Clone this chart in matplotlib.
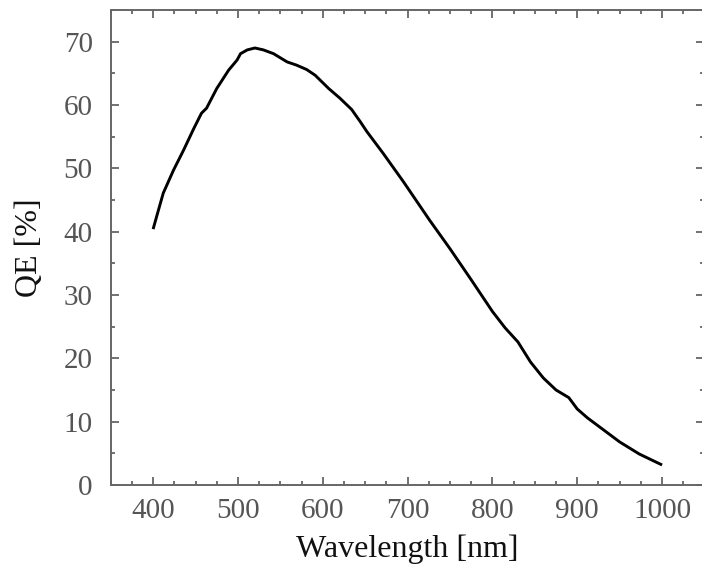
import matplotlib
matplotlib.use("Agg")
import matplotlib.pyplot as plt
from matplotlib.ticker import MultipleLocator

wavelength = [400, 405, 412, 424, 436, 448, 457, 463, 475, 489, 499, 503, 511, 520,
              530, 542, 558, 569, 581, 591, 607, 620, 634, 644, 652, 671, 695, 726,
              750, 775, 800, 815, 830, 845, 860, 875, 890, 900, 912, 926, 950, 973, 1000]
qe = [40.4, 42.8, 46.1, 49.7, 52.9, 56.3, 58.7, 59.5, 62.6, 65.5, 67.1, 68.1, 68.7, 69.0,
      68.7, 68.1, 66.8, 66.3, 65.6, 64.7, 62.6, 61.1, 59.3, 57.4, 55.8, 52.4, 47.9, 41.8,
      37.3, 32.4, 27.4, 24.8, 22.6, 19.4, 16.9, 15.0, 13.8, 12.0, 10.6, 9.2, 6.8, 4.9, 3.16]

x_ticks = [400, 500, 600, 700, 800, 900, 1000]
y_ticks = [0, 10, 20, 30, 40, 50, 60, 70]

plt.rcParams['font.family'] = ['Liberation Serif', 'DejaVu Serif']

fig = plt.figure(figsize=(7.02, 5.75), dpi=100)
W, H = 702, 575
left, right, top, bottom = 110.7, 704.5, 10, 485
ax = fig.add_axes([left / W, (H - bottom) / H, (right - left) / W, (bottom - top) / H])

ax.plot(wavelength, qe, color='black', lw=2.1, solid_joinstyle='round',
        solid_capstyle='butt')

ax.set_xlim(350, 1050)
ax.set_ylim(0, 75)
ax.set_xticks(x_ticks)
ax.set_yticks(y_ticks)
ax.xaxis.set_minor_locator(MultipleLocator(25))
ax.yaxis.set_minor_locator(MultipleLocator(5))

spine_col = '#666666'
for s in ax.spines.values():
    s.set_color(spine_col)
    s.set_linewidth(1.4)

ax.tick_params(which='both', direction='in', top=True, right=True, color=spine_col,
               width=1.3, labelcolor='#555555', labelsize=21)
ax.tick_params(which='major', length=6)
ax.tick_params(which='minor', length=3)
ax.tick_params(axis='x', which='major', pad=9)
ax.tick_params(axis='y', which='major', pad=13)

ax.set_xlabel('Wavelength [nm]', fontsize=23, color='#111111', labelpad=8)
ax.set_ylabel('QE [%]', fontsize=23, color='#111111', labelpad=14)

fig.savefig('out.png', dpi=100)
